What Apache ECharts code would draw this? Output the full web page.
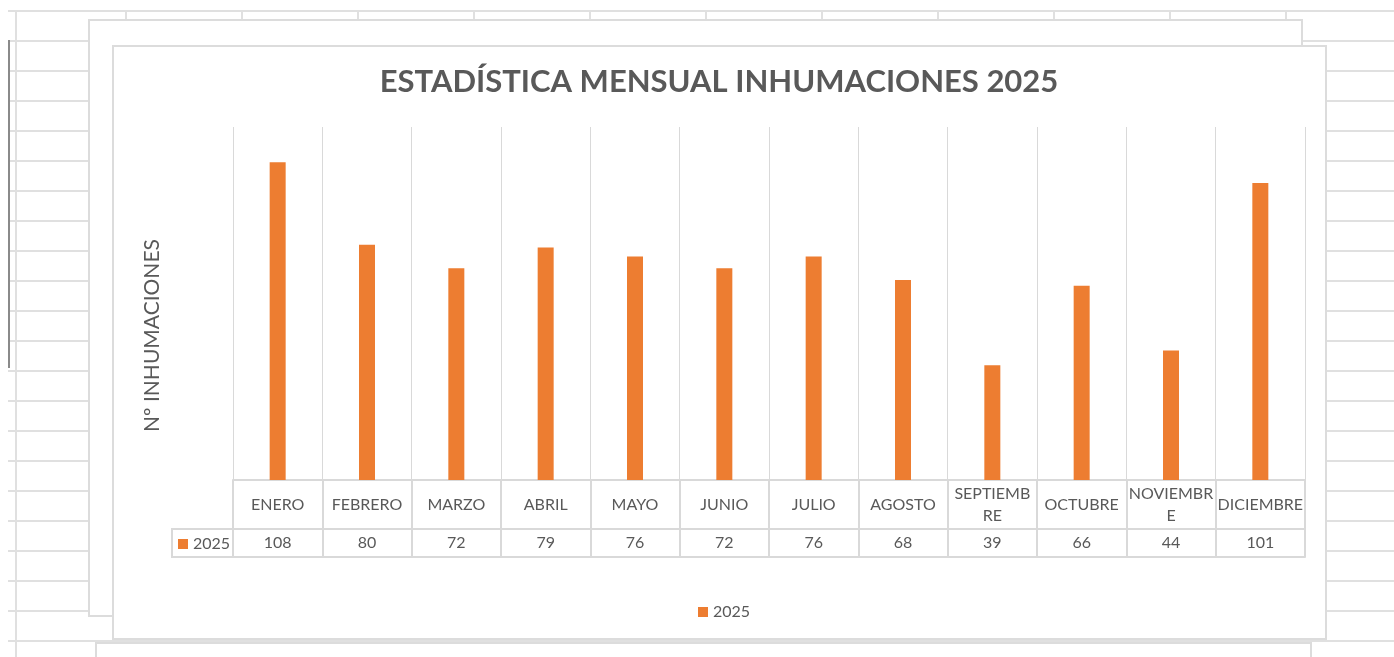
<!DOCTYPE html>
<html>
<head>
<meta charset="utf-8">
<script src="https://cdn.jsdelivr.net/npm/echarts@6/dist/echarts.min.js"></script>
<style>
  html, body { margin: 0; padding: 0; width: 1394px; height: 657px; overflow: hidden; background: #fff; }
  .sheet { position: absolute; left: 8px; top: 10px; right: 0; bottom: 0;
    background-image:
      repeating-linear-gradient(to bottom, #e0e0e0 0px, #e0e0e0 2px, transparent 2px, transparent 30px),
      repeating-linear-gradient(to right, #e0e0e0 0px, #e0e0e0 2px, transparent 2px, transparent 116px);
    background-position: 0 0, 117px 0; }
  .darkline { position: absolute; left: 8px; top: 40px; width: 2px; height: 328px; background: #8a8a8a; }
  .frame { position: absolute; background: #fff; box-sizing: border-box; border: 2px solid #dcdcdc; }
  #chart { position: absolute; left: 0; top: 0; width: 1394px; height: 657px; }
</style>
</head>
<body>
<div class="sheet"></div>
<div class="darkline"></div>
<div class="frame" style="left:88px;top:19px;width:1215px;height:598px;"></div>
<div class="frame" style="left:95px;top:642px;width:1217px;height:40px;"></div>
<div class="frame" style="left:112px;top:45px;width:1215px;height:595px;"></div>
<div id="chart"></div>
<script>
const titleText = 'ESTADÍSTICA MENSUAL INHUMACIONES 2025';
const yAxisTitle = 'Nº INHUMACIONES';
const seriesName = '2025';
const months = ['ENERO','FEBRERO','MARZO','ABRIL','MAYO','JUNIO','JULIO','AGOSTO','SEPTIEMBRE','OCTUBRE','NOVIEMBRE','DICIEMBRE'];
const monthLabels = ['ENERO','FEBRERO','MARZO','ABRIL','MAYO','JUNIO','JULIO','AGOSTO','SEPTIEMB\nRE','OCTUBRE','NOVIEMBR\nE','DICIEMBRE'];
const values2025 = [108, 80, 72, 79, 76, 72, 76, 68, 39, 66, 44, 101];

const TEXT = '#595959';
const LINE = '#d9d9d9';
const FONT = 'Lato';

const chart = echarts.init(document.getElementById('chart'), null, { renderer: 'canvas' });
chart.setOption({
  animation: false,
  backgroundColor: 'transparent',
  title: {
    text: titleText,
    left: 714,
    textAlign: 'center',
    top: 61,
    textStyle: { fontFamily: FONT, fontWeight: 'bold', fontSize: 31, color: TEXT }
  },
  legend: [
    {
      data: [seriesName], left: 178, top: 536, padding: 0, icon: 'rect', itemWidth: 10, itemHeight: 10,
      textStyle: { fontFamily: FONT, fontSize: 16, color: TEXT }, selectedMode: false
    },
    {
      data: [seriesName], left: 698, top: 604, padding: 0, icon: 'rect', itemWidth: 10, itemHeight: 10,
      textStyle: { fontFamily: FONT, fontSize: 16, color: TEXT }, selectedMode: false
    }
  ],
  grid: { left: 233, right: 89, top: 127, bottom: 177, containLabel: false },
  xAxis: [
    {
      type: 'category', data: monthLabels, position: 'bottom',
      axisLine: { show: true, lineStyle: { color: LINE, width: 2 } },
      axisTick: { show: true, length: 77, lineStyle: { color: LINE, width: 2 } },
      splitLine: { show: true, lineStyle: { color: LINE, width: 1 } },
      axisLabel: { interval: 0, margin: 25, verticalAlign: 'middle', lineHeight: 22,
        fontFamily: FONT, fontSize: 16, color: TEXT }
    },
    {
      type: 'category', data: months, position: 'bottom', offset: 49,
      axisLine: { show: true, lineStyle: { color: LINE, width: 2 } },
      axisTick: { show: false }, splitLine: { show: false },
      axisLabel: { interval: 0, margin: 14, verticalAlign: 'middle',
        formatter: (v, i) => String(values2025[i]),
        fontFamily: FONT, fontSize: 16, color: TEXT }
    },
    {
      type: 'category', data: months, position: 'bottom', offset: 77,
      axisLine: { show: true, lineStyle: { color: LINE, width: 2 } },
      axisTick: { show: false }, splitLine: { show: false }, axisLabel: { show: false }
    }
  ],
  yAxis: {
    type: 'value', min: 0, max: 120,
    axisLine: { show: false }, axisTick: { show: false }, axisLabel: { show: false }, splitLine: { show: false },
    name: yAxisTitle, nameLocation: 'middle', nameRotate: 90, nameGap: 70,
    nameTextStyle: { fontFamily: FONT, fontSize: 21, color: TEXT, padding: [0, 64, 0, 0] }
  },
  graphic: [
    { type: 'rect', shape: { x: 172, y: 529, width: 61, height: 28 },
      style: { fill: 'none', stroke: LINE, lineWidth: 2 }, silent: true }
  ],
  series: [
    {
      name: seriesName, type: 'bar', data: values2025, barWidth: 16,
      itemStyle: { color: '#ED7D31' }
    }
  ]
});
</script>
</body>
</html>
